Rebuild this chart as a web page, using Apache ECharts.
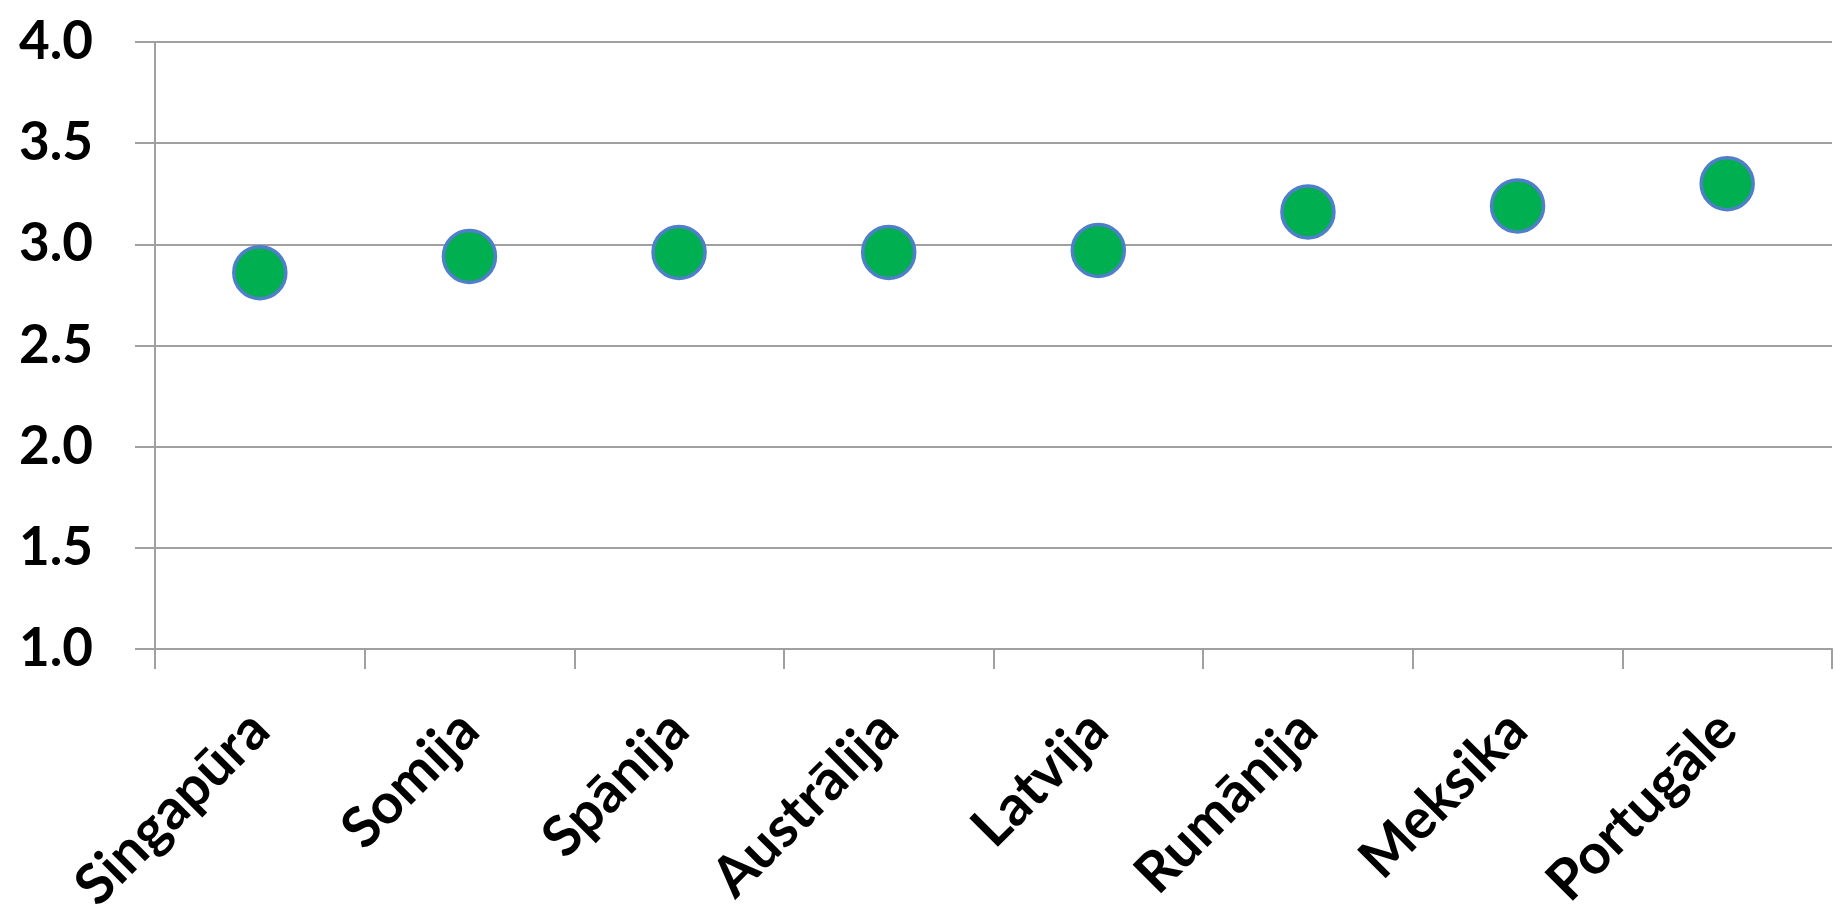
<!DOCTYPE html>
<html>
<head>
<meta charset="utf-8">
<script src="https://cdn.jsdelivr.net/npm/echarts@6/dist/echarts.min.js"></script>
<style>
html,body{margin:0;padding:0;background:#fff;}
#chart{width:1835px;height:920px;}
</style>
</head>
<body>
<div id="chart"></div>
<script>
const categories = ['Singapūra','Somija','Spānija','Austrālija','Latvija','Rumānija','Meksika','Portugāle'];
const values = [2.86, 2.94, 2.96, 2.96, 2.97, 3.16, 3.19, 3.30];
const yMin = 1.0, yMax = 4.0, yStep = 0.5;

const gray = '#A0A0A0';
const fontFam = 'Lato, "Open Sans", sans-serif';
const chart = echarts.init(document.getElementById('chart'));
chart.setOption({
  animation: false,
  grid: {left: 155, right: 3, top: 42, bottom: 271, containLabel: false},
  xAxis: {
    type: 'category',
    data: categories,
    boundaryGap: true,
    axisLine: {show: true, lineStyle: {color: gray, width: 2}},
    axisTick: {show: true, length: 20, lineStyle: {color: gray, width: 2}},
    axisLabel: {
      rotate: 45, margin: 72, interval: 0,
      color: '#000', fontSize: 56, fontWeight: 'bold', fontFamily: fontFam
    },
    splitLine: {show: false}
  },
  yAxis: {
    type: 'value',
    min: yMin, max: yMax, interval: yStep,
    axisLine: {show: true, lineStyle: {color: gray, width: 2}},
    axisTick: {show: true, length: 20, lineStyle: {color: gray, width: 2}},
    axisLabel: {
      margin: 62, color: '#000', fontSize: 53, fontWeight: 'bold', fontFamily: fontFam,
      formatter: v => v.toFixed(1)
    },
    splitLine: {show: true, lineStyle: {color: gray, width: 2}}
  },
  series: [{
    type: 'scatter',
    data: values,
    symbol: 'circle',
    symbolSize: 52,
    itemStyle: {color: '#00B050', borderColor: '#4F7FC8', borderWidth: 3.5, opacity: 1}
  }]
});
</script>
</body>
</html>
